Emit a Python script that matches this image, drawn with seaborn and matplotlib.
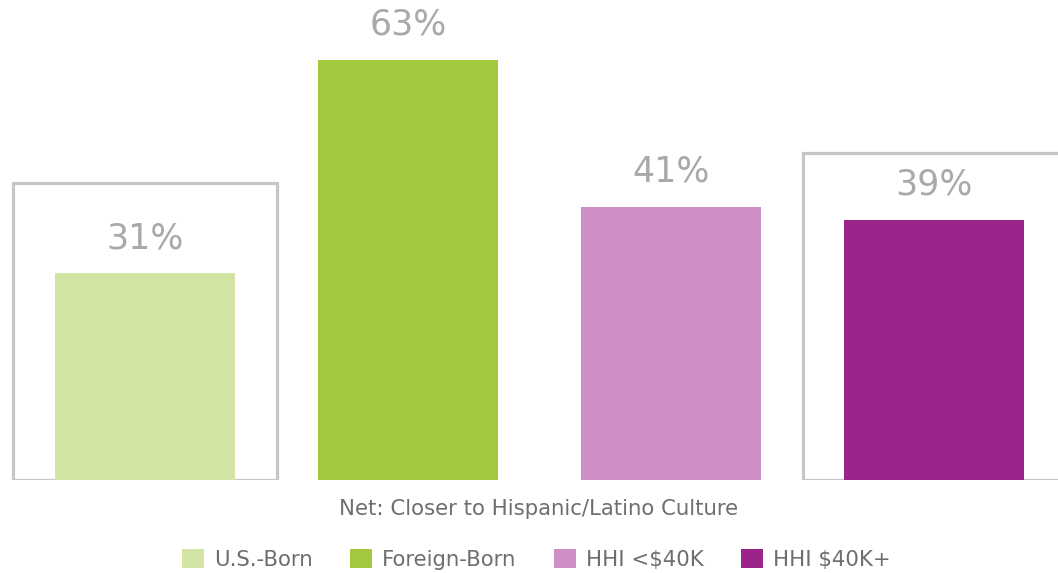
import matplotlib
matplotlib.use("Agg")
import matplotlib.pyplot as plt
from matplotlib.patches import Patch, Rectangle
import pandas as pd
import seaborn as sns

# data
groups = ["U.S.-Born", "Foreign-Born", "HHI <$40K", "HHI $40K+"]
values = [31, 63, 41, 39]
colors = ["#d1e4a3", "#a2c940", "#cd8fc4", "#9b248b"]
x_title = "Net: Closer to Hispanic/Latino Culture"

# grey outline boxes around the highlighted groups (index -> top of box)
boxes = {0: 44.5, 3: 49.0}

df = pd.DataFrame({"group": groups, "value": values})

sns.set_theme(style="white")
plt.rcParams["font.family"] = ["DejaVu Sans"]

fig = plt.figure(figsize=(10.58, 5.73), dpi=100)
ax = fig.add_axes([0, 0.1623, 1, 0.8377])

sns.barplot(data=df, x="group", y="value", hue="group", palette=colors,
            order=groups, hue_order=groups, width=0.684, legend=False,
            saturation=1, linewidth=0, ax=ax)

for cont in ax.containers:
    ax.bar_label(cont, labels=[f"{v:.0f}%" for v in cont.datavalues],
                 padding=13, color="#a7a9ac", fontsize=25)

for i, top in boxes.items():
    ax.add_patch(Rectangle((i - 0.5, 0), 1, top, fill=False,
                           edgecolor="#c6c6c8", lw=2.3, zorder=0))

ax.set_xlim(-0.551, 3.47)
ax.set_ylim(0, 72)
ax.set_xticks([])
ax.set_yticks([])
ax.set_ylabel("")
ax.set_xlabel(x_title, fontsize=15.3, color="#6d6e71")
ax.xaxis.set_label_coords(0.5094, -0.06)
ax.xaxis.label.set_verticalalignment("center")
sns.despine(ax=ax, left=True, bottom=True)

handles = [Patch(facecolor=c, edgecolor="none", label=g) for g, c in zip(groups, colors)]
fig.legend(handles=handles, loc="center", bbox_to_anchor=(0.507, 0.024), ncol=4,
           frameon=False, fontsize=15.3, handlelength=1.05, handleheight=1.05,
           handletextpad=0.47, columnspacing=1.75, labelcolor="#6d6e71",
           borderpad=0.1)

fig.savefig("out.png", dpi=100)
